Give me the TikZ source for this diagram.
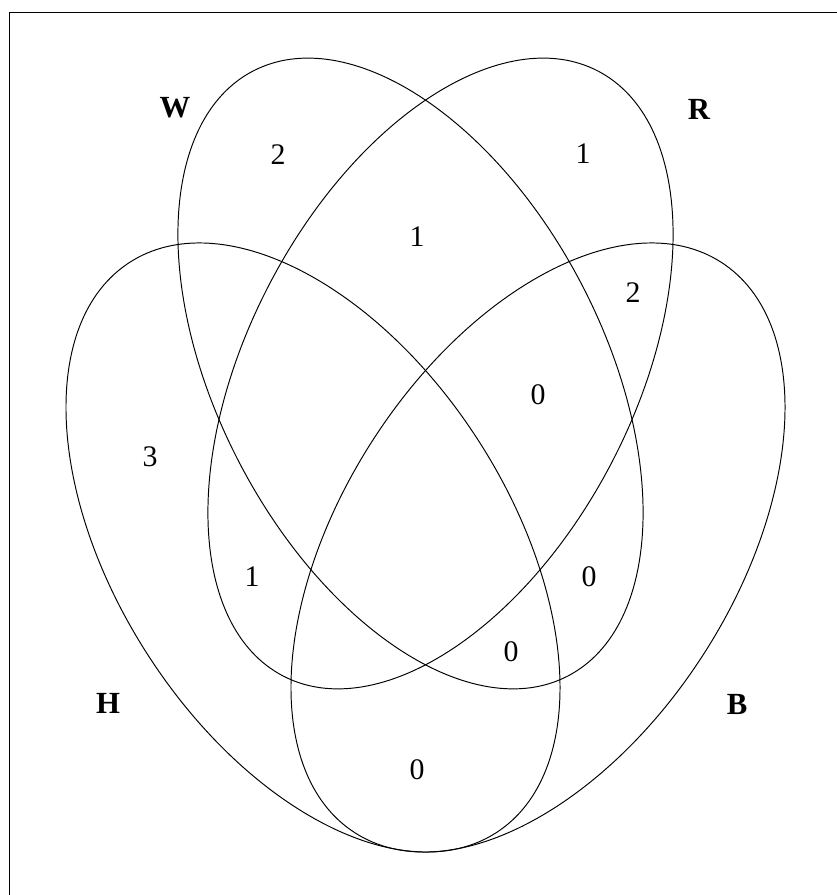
\documentclass[tikz,border=0pt]{standalone}
\usepackage{fontspec}
\setmainfont{Liberation Serif}
\usepackage{tikz}

\tikzset{
  setline/.style={line width=0.55pt},
  region/.style={font=\fontsize{17}{20}\selectfont},
  setname/.style={font=\fontsize{17.5}{20}\selectfont\bfseries}
}

\begin{document}
\begin{tikzpicture}[x=0.02cm,y=0.02cm]
  \useasboundingbox (0,0) rectangle (836,895);
  \draw[line width=0.8pt] (9.5,-20) |- (860,882.7);
  % the four sets
  \draw[setline,rotate around={-62.5:(410.5,521.5)}] (410.5,521.5) ellipse [x radius=341, y radius=193];
  \draw[setline,rotate around={62.5:(440.5,521.5)}] (440.5,521.5) ellipse [x radius=341, y radius=193];
  \draw[setline,rotate around={-57.3:(313,347.5)}] (313,347.5) ellipse [x radius=339, y radius=197];
  \draw[setline,rotate around={57.3:(538,347.5)}] (538,347.5) ellipse [x radius=339, y radius=197];
  % set names
  \node[setname] (W) at (175,787) {W};
  \node[setname] (R) at (699,786) {R};
  \node[setname] (H) at (108,192) {H};
  \node[setname] (B) at (737,191) {B};
  % counts
  \node[region] (w) at (278,740) {2};
  \node[region] (r) at (583,741) {1};
  \node[region] (wr) at (417,658) {1};
  \node[region] (rb) at (633,602) {2};
  \node[region] (wrb) at (538,500) {0};
  \node[region] (h) at (150,438) {3};
  \node[region] (wh) at (252,318) {1};
  \node[region] (whb) at (589,318) {0};
  \node[region] (wb) at (511,243) {0};
  \node[region] (hb) at (417,125) {0};
\end{tikzpicture}
\end{document}
